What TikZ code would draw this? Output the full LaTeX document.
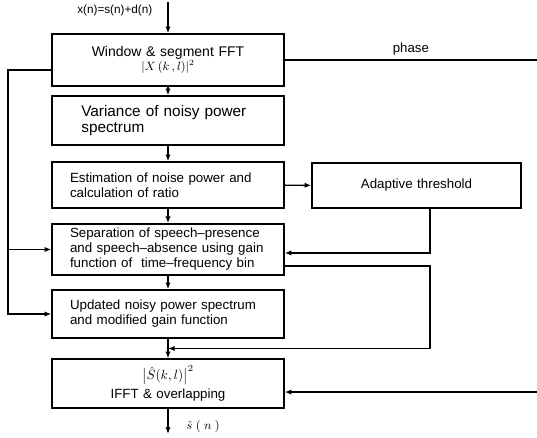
\documentclass[tikz,border=0pt]{standalone}
\usepackage{fontspec}
\setmainfont{Liberation Sans}
\usetikzlibrary{calc, positioning, arrows.meta}

\begin{document}
\begin{tikzpicture}[
    x=0.75pt, y=-0.75pt,
    box/.style={rectangle, draw, line width=1.1pt, minimum width=174pt, inner xsep=0pt, text width=147pt, align=left, font=\fontsize{10}{11.25}\selectfont},
    arrow/.style={-{Latex[length=5pt,width=4pt]}, line width=1.1pt},
    line/.style={line width=1.1pt}
  ]
  \useasboundingbox (0,0) rectangle (537,438);

  \node[box, align=center, minimum height=39pt, font=\fontsize{10.5}{11}\selectfont] (fft) at (168,60) {Window \& segment FFT\\[-1pt]{\small$|X\,(k\,,l)|^2$}};
  \node[box, minimum height=36.75pt, text width=130pt, font=\fontsize{11.5}{12}\selectfont] (var) at (168,120.5) {Variance of noisy power\\spectrum};
  \node[box, minimum height=34.5pt] (est) at (168,185) {Estimation of noise power and\\calculation of ratio};
  \node[box, minimum height=38.25pt] (sep) at (168,249.5) {Separation of speech--presence\\and speech--absence using gain\\function of\ \ time--frequency bin};
  \node[box, minimum height=36pt] (upd) at (168,314) {Updated noisy power spectrum\\and modified gain function};
  \node[box, align=center, minimum height=36.75pt] (ifft) at (168,383.5) {$\bigl|\hat{S}(k,l)\bigr|^2$\\[3pt]IFFT \& overlapping};
  \node[box, minimum width=156.75pt, minimum height=33.75pt, align=center] (thr) at (416.5,185.5) {Adaptive threshold};

  \coordinate (in) at (168,2);
  \coordinate (out) at (168,434);
  \coordinate (fb) at (8,0);
  \coordinate (col) at (430,0);
  \coordinate (ph) at (537,0);
  \coordinate (mrg) at ($(upd.south)!0.5!(ifft.north)$);
  \coordinate (ifin) at ([yshift=-6.4pt]ifft.east);

  \node[font=\fontsize{8.8}{10}\selectfont, anchor=east] (xin) at (157,10) {x(n)=s(n)+d(n)};
  \node[anchor=west, font=\small] (shat) at (182,427) {$\hat{s}\;(\;n\;)$};

  \draw[arrow] (in) -- (fft);
  \draw[arrow] (fft) -- (var);
  \draw[arrow] (var) -- (est);
  \draw[arrow] (est) -- (sep);
  \draw[arrow] (sep) -- (upd);
  \draw[arrow] (upd) -- (ifft);
  \draw[arrow] (ifft) -- (out);

  \draw[line] (fft.east) -- (fft.east -| ph) node[midway, above, font=\fontsize{9.9}{11}\selectfont] {phase};
  \draw[arrow] (ifin -| ph) -- (ifin);

  \draw[arrow] (est) -- (thr);
  \draw[arrow] (thr.south -| col) |- ([yshift=-2.6pt]sep.east);
  \draw[arrow] ([yshift=-12.4pt]sep.east) -| (col |- mrg) -- (mrg);

  \draw[arrow] ([yshift=-7.5pt]fft.west) -| (fb |- upd) -- (upd);
  \draw[arrow] (fb |- sep) -- (sep);
\end{tikzpicture}
\end{document}
